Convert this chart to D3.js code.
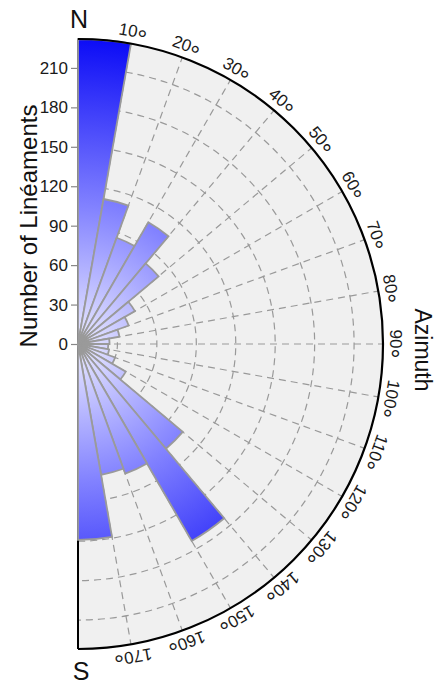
<!DOCTYPE html>
<html>
<head>
<meta charset="utf-8">
<script src="https://cdn.jsdelivr.net/npm/d3@7/dist/d3.min.js"></script>
<style>
  html, body { margin: 0; padding: 0; background: #fff; }
  svg { display: block; font-family: "Liberation Sans", Arial, sans-serif; }
</style>
</head>
<body>
<svg id="rose" width="437" height="688"></svg>
<script>
// Azimuth bins (start of each 10° class)
const binStarts = [0, 10, 20, 30, 40, 50, 60, 70, 80, 90, 100, 110, 120, 130, 140, 150, 160, 170];
// Number of lineaments per class
const counts = [232, 112, 86, 107, 80, 50, 41, 32, 24, 23, 24, 30, 42, 104, 173, 105, 101, 149];
// Radial tick values
const radialTicks = [0, 30, 60, 90, 120, 150, 180, 210];
// Azimuth tick labels
const azimuthTicks = [10, 20, 30, 40, 50, 60, 70, 80, 90, 100, 110, 120, 130, 140, 150, 160, 170];
const binWidth = 10;
const radialMax = 232;

const cx = 78, cy = 344, outerR = 305;

const svg = d3.select("#rose");

const r = d3.scaleLinear().domain([0, radialMax]).range([0, outerR]);
const a = d3.scaleLinear().domain([0, 180]).range([0, Math.PI]);

// radial fill shading, light at the centre to saturated blue at the rim
const defs = svg.append("defs");
const grad = defs.append("radialGradient")
  .attr("id", "barFill")
  .attr("gradientUnits", "userSpaceOnUse")
  .attr("cx", 0).attr("cy", 0).attr("r", outerR);
grad.append("stop").attr("offset", 0).attr("stop-color", "#ececff");
grad.append("stop").attr("offset", 0.45).attr("stop-color", "#8282ff");
grad.append("stop").attr("offset", 1).attr("stop-color", "#0c0cf6");

const g = svg.append("g").attr("transform", `translate(${cx},${cy})`);

// half-disc background
g.append("path")
  .attr("d", d3.arc()({innerRadius: 0, outerRadius: outerR, startAngle: 0, endAngle: Math.PI}))
  .attr("fill", "#f0f0f0");

// concentric grid arcs
g.selectAll("path.ring")
  .data(radialTicks.filter(v => v > 0))
  .join("path")
  .attr("class", "ring")
  .attr("d", d => {
    const p = d3.path();
    p.arc(0, 0, r(d), -Math.PI / 2, Math.PI / 2);
    return p.toString();
  })
  .attr("fill", "none")
  .attr("stroke", "#999")
  .attr("stroke-width", 1.2)
  .attr("stroke-dasharray", "7,5");

// radial grid lines
g.selectAll("line.spoke")
  .data(azimuthTicks)
  .join("line")
  .attr("class", "spoke")
  .attr("x1", 0).attr("y1", 0)
  .attr("x2", d => outerR * Math.sin(a(d)))
  .attr("y2", d => -outerR * Math.cos(a(d)))
  .attr("stroke", "#999")
  .attr("stroke-width", 1.2)
  .attr("stroke-dasharray", "7,5");

// left boundary (N–S diameter)
g.append("line")
  .attr("x1", 0).attr("y1", -outerR).attr("x2", 0).attr("y2", outerR)
  .attr("stroke", "#000").attr("stroke-width", 2);

// rose petals
const petal = d3.arc()
  .innerRadius(0)
  .outerRadius(d => r(d.value))
  .startAngle(d => a(d.start))
  .endAngle(d => a(d.start + binWidth));
g.selectAll("path.petal")
  .data(binStarts.map((s, i) => ({start: s, value: counts[i]})))
  .join("path")
  .attr("class", "petal")
  .attr("d", petal)
  .attr("fill", "url(#barFill)")
  .attr("stroke", "#9a9a9a")
  .attr("stroke-width", 1.8)
  .attr("stroke-linejoin", "miter");

// outer rim
g.append("path")
  .attr("d", () => {
    const p = d3.path();
    p.arc(0, 0, outerR, -Math.PI / 2, Math.PI / 2);
    return p.toString();
  })
  .attr("fill", "none")
  .attr("stroke", "#000")
  .attr("stroke-width", 2.2);

// radial value axis along the north half of the diameter
const yAxisScale = d3.scaleLinear().domain([0, radialMax]).range([cy, cy - outerR]);
const yAxis = svg.append("g")
  .attr("transform", `translate(${cx - 1},0)`)
  .call(d3.axisLeft(yAxisScale).tickValues(radialTicks).tickSize(6).tickPadding(3));
yAxis.select(".domain").remove();
yAxis.selectAll(".tick line").attr("stroke", "#888").attr("stroke-width", 1.2);
yAxis.selectAll(".tick text")
  .attr("font-size", 17)
  .attr("font-family", "Liberation Sans, Arial, sans-serif")
  .attr("fill", "#1a1a1a");

// azimuth labels around the rim
const lab = g.selectAll("text.az")
  .data(azimuthTicks)
  .join("text")
  .attr("class", "az")
  .attr("transform", d => `rotate(${d}) translate(0,${-(outerR + 7)})`)
  .attr("text-anchor", "middle")
  .attr("font-size", 17)
  .attr("fill", "#1a1a1a");
lab.append("tspan").text(d => d);
lab.append("tspan").attr("font-size", 25).attr("dy", 9).text("°");

// cardinal letters
svg.append("text")
  .attr("x", cx + 1).attr("y", cy - outerR - 11)
  .attr("text-anchor", "middle")
  .attr("font-size", 25)
  .attr("fill", "#111")
  .text("N");
svg.append("text")
  .attr("x", cx + 3).attr("y", cy + outerR + 31)
  .attr("text-anchor", "middle")
  .attr("font-size", 25)
  .attr("fill", "#111")
  .text("S");

// axis titles
svg.append("text")
  .attr("transform", `translate(37,226) rotate(-90)`)
  .attr("text-anchor", "middle")
  .attr("font-size", 24)
  .attr("fill", "#111")
  .text("Number of Linéaments");
svg.append("text")
  .attr("transform", `translate(415,350) rotate(90)`)
  .attr("text-anchor", "middle")
  .attr("font-size", 23)
  .attr("fill", "#111")
  .text("Azimuth");
</script>
</body>
</html>
